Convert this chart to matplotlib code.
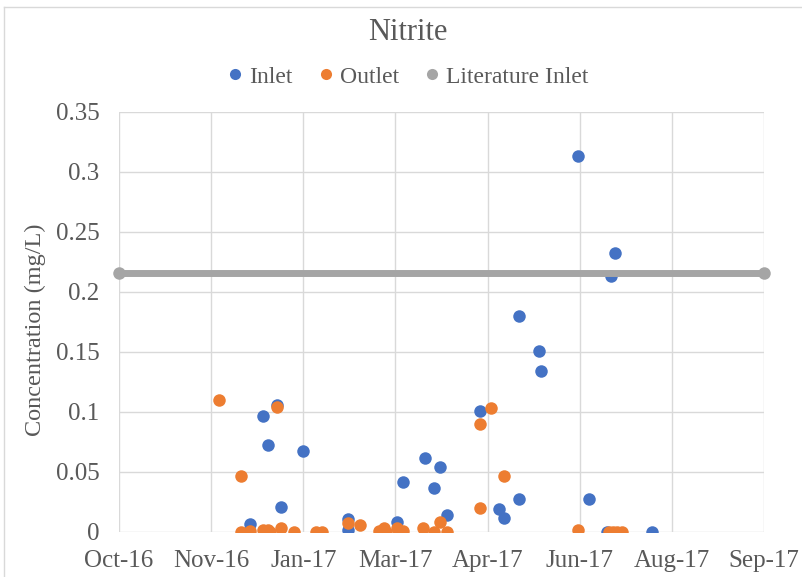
import matplotlib
matplotlib.use("Agg")
import matplotlib.pyplot as plt
import matplotlib.dates as mdates
from matplotlib.lines import Line2D
import numpy as np
import datetime as dt

plt.rcParams['font.family'] = ['Liberation Serif', 'DejaVu Serif']

inlet_dates = ["2016-12-17", "2016-12-24", "2016-12-27", "2017-01-01", "2017-01-03",
               "2017-01-15", "2017-02-08", "2017-02-08", "2017-03-07", "2017-03-10",
               "2017-03-22", "2017-03-27", "2017-03-30", "2017-04-03", "2017-04-21",
               "2017-05-01", "2017-05-04", "2017-05-12", "2017-05-12", "2017-05-23",
               "2017-05-24", "2017-06-13", "2017-06-19", "2017-07-01", "2017-07-03",
               "2017-06-29", "2017-07-23"]
inlet_values = [0.0064, 0.0964, 0.072, 0.1056, 0.0206,
                0.0675, 0.0106, 0.0014, 0.0085, 0.0412,
                0.0612, 0.0367, 0.0537, 0.0139, 0.1006,
                0.0192, 0.0112, 0.180, 0.0272, 0.1506,
                0.1339, 0.3131, 0.027, 0.2131, 0.232,
                0.0, 0.0]

outlet_dates = ["2016-11-30", "2016-12-12", "2016-12-12", "2016-12-17", "2016-12-24",
                "2016-12-27", "2016-12-28", "2017-01-01", "2017-01-03", "2017-01-10",
                "2017-01-22", "2017-01-25", "2017-02-08", "2017-02-15", "2017-02-25",
                "2017-02-28", "2017-03-01", "2017-03-07", "2017-03-10", "2017-03-21",
                "2017-03-27", "2017-03-30", "2017-04-03", "2017-04-21", "2017-04-27",
                "2017-04-21", "2017-05-04", "2017-06-13", "2017-06-30", "2017-07-02",
                "2017-07-04", "2017-07-07"]
outlet_values = [0.1097, 0.0462, 0.0, 0.0006, 0.0017,
                 0.0014, 0.0, 0.1037, 0.0028, 0.0,
                 0.0, 0.0, 0.0073, 0.0052, 0.001,
                 0.0027, 0.0, 0.0035, 0.0006, 0.0028,
                 0.0, 0.0077, 0.0, 0.0895, 0.1033,
                 0.0195, 0.0464, 0.0014, 0.0, 0.0,
                 0.0, 0.0]

lit_dates = ["2016-10-07", "2017-09-22"]
lit_values = [0.216, 0.216]

x_start = "2016-10-07"
x_step_days = 50
n_steps = 7
y_ticks = [0, 0.05, 0.1, 0.15, 0.2, 0.25, 0.3, 0.35]
y_tick_labels = ["0", "0.05", "0.1", "0.15", "0.2", "0.25", "0.3", "0.35"]

BLUE = "#4472C4"
ORANGE = "#ED7D31"
GRAY = "#A5A5A5"
TXT = "#595959"

def to_dates(lst):
    return [dt.datetime.strptime(s, "%Y-%m-%d") for s in lst]

fig = plt.figure(figsize=(8.02, 5.77), dpi=100)
ax = fig.add_axes([119/802, 1-531.7/577, (764-119)/802, (531.7-111.7)/577])

ax.plot(to_dates(inlet_dates), inlet_values, 'o', color=BLUE, ms=9, mec='none', zorder=3)
ax.plot(to_dates(outlet_dates), outlet_values, 'o', color=ORANGE, ms=9, mec='none', zorder=4)
ax.plot(to_dates(lit_dates), lit_values, '-o', color=GRAY, lw=5, ms=9, mec='none', zorder=5,
        clip_on=False)

start = dt.datetime.strptime(x_start, "%Y-%m-%d")
ticks = [start + dt.timedelta(days=x_step_days*k) for k in range(n_steps+1)]
ax.set_xlim(ticks[0], ticks[-1])
ax.set_xticks(ticks)
ax.xaxis.set_major_formatter(mdates.DateFormatter("%b-%y"))
ax.set_ylim(0, 0.35)
ax.set_yticks(y_ticks)
ax.set_yticklabels(y_tick_labels)

for s in ax.spines.values():
    s.set_visible(False)
ax.grid(True, color="#D9D9D9", lw=1.0, zorder=0)
ax.set_axisbelow(True)
ax.tick_params(axis='both', length=0, labelsize=18, colors=TXT)
ax.tick_params(axis='y', pad=14)
ax.tick_params(axis='x', pad=13)

ax.set_ylabel("Concentration (mg/L)", fontsize=17.5, color=TXT)
ax.yaxis.set_label_coords(-0.113, 0.48)

fig.text(0.509, 0.943, "Nitrite", ha='center', va='center', fontsize=22, color=TXT)

handles = [Line2D([], [], marker='o', ls='none', color=BLUE, ms=8, mec='none'),
           Line2D([], [], marker='o', ls='none', color=ORANGE, ms=8, mec='none'),
           Line2D([], [], marker='o', ls='none', color=GRAY, ms=8, mec='none')]
fig.legend(handles, ["Inlet", "Outlet", "Literature Inlet"], loc='center',
           bbox_to_anchor=(0.509, 0.867), ncol=3, frameon=False, fontsize=17,
           labelcolor=TXT, handlelength=0.6, handletextpad=0.3, columnspacing=1.1,
           borderpad=0)

fig.add_artist(Line2D([4/802, 4/802], [0, 1-7/577], color="#D9D9D9", lw=1))
fig.add_artist(Line2D([4/802, 1], [1-7/577, 1-7/577], color="#D9D9D9", lw=1))

fig.savefig("out.png", dpi=100)
